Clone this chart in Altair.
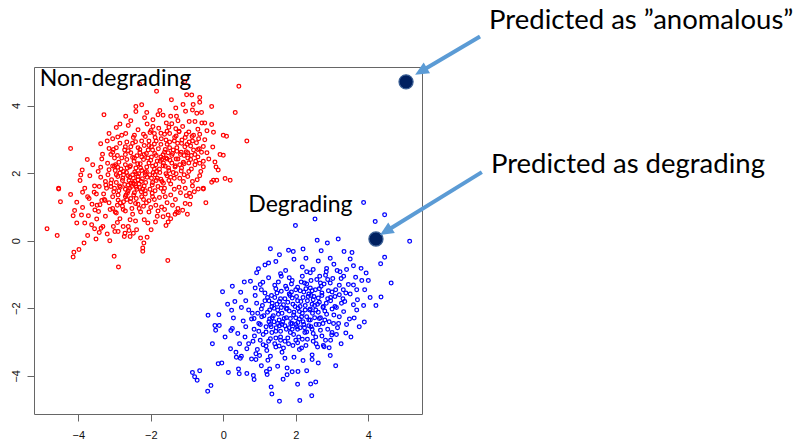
import math
import altair as alt
import pandas as pd

# --- Non-degrading samples (red) -------------------------------------------
red_edge = [
    (-2.31, 4.64), (-1.06, 4.71), (0.43, 4.57), (-1.84, 4.42), (-1.01, 4.32), (-0.87, 4.31),
    (-0.65, 4.24), (-1.43, 4.17), (-1.11, 4.03), (-0.83, 4.03), (-0.65, 4.10), (-2.41, 3.97),
    (-2.25, 4.02), (-1.31, 3.93), (-0.32, 3.97), (-2.41, 3.82), (-2.11, 3.79), (-2.69, 3.68),
    (-3.29, 3.73), (-1.29, 3.68), (-1.04, 3.83), (-0.85, 3.87), (-0.73, 3.77), (-0.60, 3.79),
    (0.33, 3.79), (-2.17, 3.64), (-1.94, 3.58), (-1.80, 3.73), (-1.66, 3.71), (-1.57, 3.48),
    (-0.94, 3.53), (-0.78, 3.53), (-0.59, 3.48), (-0.51, 3.48), (-0.32, 3.44), (-1.94, 3.38),
    (-1.50, 3.36), (-1.31, 3.31), (-1.22, 3.24), (-3.15, 3.17), (-2.91, 3.07), (-2.69, 3.17),
    (-1.99, 3.26), (-1.90, 3.17), (-1.62, 3.15), (-1.48, 3.17), (-0.27, 3.21), (0.00, 3.12),
    (0.09, 3.09), (-0.51, 2.99), (-0.55, 2.79), (-0.29, 2.77), (-4.21, 2.73), (-3.38, 2.87),
    (-3.15, 2.73), (-3.03, 2.70), (-3.33, 2.56), (-3.89, 2.09), (-3.93, 1.94), (-3.38, 2.17),
    (-3.19, 2.29), (-3.05, 2.21), (-2.91, 2.17), (-4.54, 1.55), (-0.09, 2.55), (0.00, 2.53),
    (-0.23, 2.33), (-0.65, 2.29), (-0.55, 2.19), (-0.14, 2.09), (0.05, 1.84), (0.19, 1.79),
    (-0.27, 1.79), (-0.55, 1.55), (0.65, 2.95),
    (-4.54, 1.53), (-4.21, 1.37), (-3.88, 1.43), (-3.74, 1.30), (-4.49, 1.15), (-4.04, 1.14),
    (-3.56, 1.43), (-3.42, 1.60), (-3.24, 1.65), (-3.10, 1.70), (-4.86, 0.35), (-4.58, 0.15),
    (-4.12, -0.34), (-4.14, -0.48), (-3.98, -0.26), (-3.84, -0.07), (-3.74, 0.15), (-3.51, 0.05),
    (-3.42, 0.24), (-3.37, 0.37), (-3.32, 0.42), (-3.13, 0.00), (-3.01, -0.46), (-2.89, -0.78),
    (-2.22, -0.22), (-2.22, -0.31), (-2.19, -0.07), (-2.28, 0.08), (-1.53, -0.59), (-1.99, 0.32),
    (-1.87, 0.55), (-2.08, 0.52), (-0.48, 1.12), (-0.69, 1.53), (-0.55, 1.53), (-0.32, 1.73),
    (-0.18, 1.79), (-0.93, 1.40), (-1.02, 1.33), (-1.29, 0.84),
    (-4.10, 0.89), (-4.14, 0.74), (-4.04, 0.52), (-3.91, 0.76), (-3.82, 0.52), (-3.72, 0.74),
    (-3.63, 0.47), (-3.49, 0.64), (-3.44, 0.86), (-3.40, 1.06), (-3.35, 1.19), (-3.26, 1.19),
    (-3.54, 0.91), (-2.39, 0.32), (-2.48, 0.22), (-2.57, 0.12), (-2.71, 0.22), (-2.76, 0.42),
    (-2.62, 0.42), (-2.57, 0.62), (-3.03, 0.42), (-2.92, 0.54), (-2.99, 0.27), (-2.90, 0.27),
    (-2.73, 0.12), (-1.52, 0.55), (-1.66, 0.71), (-1.52, 0.76), (-1.33, 0.78), (-1.24, 0.83),
    (-0.99, 0.78),
]

red_core = [
    (-2.62, 3.41), (-2.35, 3.28), (-2.10, 3.45), (-1.78, 3.33), (-1.42, 3.46), (-1.12, 3.38),
    (-0.95, 3.22), (-0.70, 3.30), (-2.80, 3.12), (-2.48, 3.05), (-2.20, 3.15), (-1.71, 3.02),
    (-1.30, 3.10), (-1.05, 3.05), (-0.82, 3.12), (-0.68, 3.02), (-2.95, 3.35), (-1.55, 3.24),
    (-3.05, 2.62), (-2.85, 2.88), (-2.70, 2.55), (-2.55, 2.78), (-2.42, 2.93), (-2.30, 2.61),
    (-2.18, 2.82), (-2.05, 2.95), (-1.95, 2.68), (-1.85, 2.52), (-1.72, 2.85), (-1.60, 2.70),
    (-1.48, 2.92), (-1.40, 2.58), (-1.28, 2.75), (-1.15, 2.88), (-1.02, 2.63), (-0.90, 2.80),
    (-0.78, 2.55), (-0.66, 2.72), (-2.62, 2.66), (-2.38, 2.51), (-2.12, 2.58), (-1.90, 2.86),
    (-1.66, 2.54), (-1.35, 2.95), (-1.08, 2.52), (-0.85, 2.95), (-2.92, 2.52), (-3.20, 2.95),
    (-0.45, 2.60), (-1.52, 2.60),
    (-3.35, 2.42), (-3.15, 2.10), (-3.00, 2.45), (-2.88, 2.32), (-2.75, 2.05), (-2.66, 2.40),
    (-2.58, 2.18), (-2.50, 2.46), (-2.44, 2.03), (-2.36, 2.28), (-2.28, 2.15), (-2.20, 2.40),
    (-2.12, 2.05), (-2.05, 2.30), (-1.98, 2.48), (-1.90, 2.12), (-1.82, 2.36), (-1.75, 2.02),
    (-1.66, 2.22), (-1.58, 2.45), (-1.50, 2.08), (-1.42, 2.30), (-1.33, 2.18), (-1.25, 2.42),
    (-1.16, 2.06), (-1.08, 2.28), (-0.98, 2.45), (-0.88, 2.12), (-0.76, 2.35), (-0.62, 2.05),
    (-0.40, 2.42), (-2.70, 2.25), (-2.46, 2.35), (-2.25, 2.48), (-1.95, 2.20), (-1.70, 2.40),
    (-1.38, 2.02), (-1.20, 2.25), (-2.98, 2.08), (-0.20, 2.18),
    (-3.55, 1.62), (-3.38, 1.88), (-3.22, 1.55), (-3.08, 1.80), (-2.95, 1.95), (-2.86, 1.62),
    (-2.78, 1.78), (-2.70, 1.52), (-2.63, 1.92), (-2.55, 1.70), (-2.48, 1.85), (-2.40, 1.58),
    (-2.33, 1.98), (-2.26, 1.75), (-2.18, 1.62), (-2.10, 1.88), (-2.02, 1.52), (-1.95, 1.72),
    (-1.88, 1.95), (-1.80, 1.60), (-1.72, 1.82), (-1.62, 1.55), (-1.55, 1.92), (-1.45, 1.68),
    (-1.35, 1.85), (-1.22, 1.58), (-1.10, 1.75), (-0.98, 1.90), (-0.85, 1.62), (-0.72, 1.80),
    (-2.58, 1.55), (-2.35, 1.80), (-2.15, 1.95), (-1.98, 1.85), (-1.65, 1.70), (-2.75, 1.95),
    (-3.00, 1.55), (-2.45, 1.68), (-2.22, 1.52), (-1.85, 1.78),
    (-3.70, 1.25), (-3.48, 1.05), (-3.30, 1.38), (-3.15, 1.12), (-3.02, 1.45), (-2.90, 1.20),
    (-2.78, 1.02), (-2.68, 1.35), (-2.56, 1.15), (-2.45, 1.42), (-2.35, 1.08), (-2.25, 1.30),
    (-2.15, 1.48), (-2.05, 1.18), (-1.96, 1.40), (-1.86, 1.05), (-1.76, 1.28), (-1.65, 1.45),
    (-1.55, 1.12), (-1.45, 1.35), (-1.32, 1.22), (-1.18, 1.42), (-1.05, 1.10), (-0.90, 1.30),
    (-2.62, 1.48), (-2.92, 1.05), (-2.20, 1.02), (-1.70, 1.00),
    (-3.25, 0.72), (-3.05, 0.95), (-2.85, 0.65), (-2.70, 0.88), (-2.50, 0.78), (-2.32, 0.95),
    (-2.18, 0.62), (-2.05, 0.85), (-1.82, 0.72), (-1.62, 0.92), (-1.45, 0.65), (-1.12, 0.90),
    (-2.42, 0.58), (-2.95, 0.82),
]

red_dense = [
    (-2.95, 1.72), (-2.88, 1.48), (-2.82, 2.12), (-2.77, 1.85), (-2.72, 1.66), (-2.67, 2.02),
    (-2.64, 1.42), (-2.60, 1.78), (-2.56, 2.22), (-2.53, 1.60), (-2.50, 1.95), (-2.47, 1.35),
    (-2.44, 1.76), (-2.41, 2.15), (-2.38, 1.52), (-2.35, 1.90), (-2.32, 1.68), (-2.29, 2.28),
    (-2.26, 1.45), (-2.23, 1.83), (-2.91, 1.90), (-2.84, 1.58), (-2.70, 1.30), (-2.58, 1.88),
    (-2.49, 1.70), (-2.40, 1.98), (-2.31, 1.58), (-2.25, 2.08), (-2.97, 2.25), (-2.62, 1.65),
    (-2.18, 2.55), (-2.14, 1.72), (-2.11, 2.18), (-2.07, 2.68), (-2.03, 1.95), (-2.00, 2.38),
    (-1.96, 1.65), (-1.93, 2.02), (-1.89, 2.58), (-1.86, 2.25), (-1.82, 1.85), (-1.79, 2.72),
    (-1.76, 2.12), (-1.72, 2.48), (-1.69, 1.75), (-1.65, 2.30), (-1.62, 2.62), (-1.58, 1.98),
    (-1.55, 2.42), (-1.51, 2.15), (-1.48, 2.75), (-1.45, 1.88), (-1.42, 2.52), (-2.16, 2.02),
    (-2.08, 2.45), (-1.98, 2.78), (-1.84, 2.05), (-1.74, 2.35), (-1.60, 2.20), (-1.47, 2.38),
    (-1.38, 2.68), (-1.34, 3.05), (-1.30, 2.42), (-1.26, 2.88), (-1.22, 3.22), (-1.18, 2.55),
    (-1.14, 2.98), (-1.10, 2.32), (-1.06, 2.78), (-1.02, 3.15), (-0.98, 2.60), (-0.94, 2.92),
    (-0.90, 2.40), (-0.86, 3.08), (-0.82, 2.68), (-0.78, 2.25), (-0.74, 2.90), (-0.70, 2.48),
    (-0.65, 3.15), (-0.60, 2.62), (-0.55, 2.35), (-1.32, 2.22), (-1.16, 2.62), (-1.00, 2.85),
    (-0.88, 2.52),
    (-3.28, 1.22), (-3.12, 0.92), (-3.05, 1.30), (-2.98, 0.85), (-2.84, 1.12), (-2.76, 0.92),
    (-2.66, 1.22), (-2.52, 0.95), (-2.40, 1.25), (-2.28, 0.85), (-2.12, 1.12), (-2.00, 0.98),
    (-1.90, 1.22), (-1.80, 0.88), (-3.10, 2.55), (-2.95, 2.75), (-2.80, 2.45), (-2.66, 2.92),
    (-2.55, 2.60), (-2.45, 3.12), (-2.35, 2.75), (-2.25, 2.95), (-2.15, 3.08), (-2.02, 3.20),
    (-1.88, 3.05), (-1.72, 3.18), (-1.58, 2.98), (-2.72, 2.68), (-2.50, 2.88),
    (-3.95, 1.78), (-3.82, 1.55), (-3.68, 1.92), (-3.60, 2.25), (-3.50, 1.38), (-3.45, 2.05),
    (-3.75, 2.40), (-3.62, 1.08), (-3.88, 0.98), (-1.35, 1.52), (-1.20, 1.85), (-1.05, 1.55),
    (-0.95, 2.05), (-0.80, 1.45), (-0.65, 1.92), (-1.40, 1.05), (-1.25, 0.95), (-0.92, 1.08),
    (-1.58, 0.45), (-2.60, 0.30), (-3.20, 0.20), (-2.10, 0.10), (-3.55, 0.35), (-1.75, 3.85),
    (-1.45, 3.68), (-2.55, 3.55), (-2.85, 3.45), (-3.05, 3.02), (-1.25, 3.55), (-0.45, 3.25),
    (-2.45, 2.45), (-2.65, 2.15), (-2.85, 2.00), (-3.10, 1.60), (-3.18, 1.95), (-2.90, 1.35),
    (-2.55, 1.25), (-2.20, 1.22), (-1.95, 1.30), (-1.72, 1.55), (-1.50, 1.78), (-1.30, 1.98),
    (-1.15, 2.15), (-0.95, 2.30), (-0.70, 2.70), (-1.55, 2.85), (-1.85, 2.95), (-2.05, 2.82),
    (-2.30, 2.70), (-2.70, 2.78), (-3.00, 2.20), (-3.25, 1.75), (-2.15, 1.38), (-1.88, 1.48),
    (-1.60, 1.30), (-2.42, 1.10), (-2.75, 1.15), (-1.28, 2.65), (-1.08, 1.95), (-0.85, 1.75),
]

# --- Degrading samples (blue) ----------------------------------------------
blue_edge = [
    (3.87, 1.13), (4.45, 0.77), (4.19, 0.57), (2.53, 0.64), (1.99, 0.45), (5.14, -0.02),
    (1.30, -0.24), (2.59, 0.01), (2.87, -0.07), (3.17, 0.05), (1.93, -0.32), (3.33, -0.32),
    (4.45, -0.49), (4.34, -0.68), (1.25, -0.66), (0.97, -0.83), (-0.02, -1.51), (0.48, -1.53),
    (0.88, -1.40), (1.02, -1.30), (1.09, -1.23), (4.63, -1.25), (4.35, -1.67), (4.21, -1.92),
    (3.87, -1.92), (3.89, -2.41), (-0.42, -2.21), (-0.12, -2.19), (-0.23, -2.51), (-0.11, -2.51),
    (-0.21, -2.65), (0.25, -2.60), (0.21, -2.66), (3.38, -2.73), (2.78, -3.14), (2.92, -3.17),
    (-0.85, -3.90), (-0.79, -4.03), (-0.72, -4.13), (-0.65, -3.85), (-0.34, -4.29), (-0.43, -4.46),
    (-0.14, -3.64), (-0.04, -3.62), (0.14, -3.90), (0.42, -3.80), (0.44, -3.94), (0.65, -3.93),
    (0.83, -3.99), (0.85, -4.11), (1.21, -3.96), (1.28, -3.80), (1.32, -4.33), (1.34, -4.54),
    (1.55, -4.75), (2.11, -4.73), (2.44, -4.59), (2.41, -4.24), (2.55, -4.18), (1.76, -3.77),
    (1.90, -3.88), (2.06, -3.87), (1.76, -3.97), (2.20, -3.55), (2.45, -3.52), (0.47, -3.48),
    (0.50, -3.42), (0.36, -3.45), (0.78, -3.50), (0.90, -3.52), (1.00, -3.40), (1.23, -3.54),
    (3.82, -1.18), (4.00, -1.18), (3.59, -1.31), (3.68, -1.45), (3.31, -1.45), (3.94, -0.96),
    (3.50, -0.54), (3.59, -0.74), (3.59, -1.90), (3.68, -2.05), (3.61, -2.29), (2.99, -2.79),
    (0.23, -2.06), (0.28, -2.29), (0.32, -1.80), (1.19, -3.87),
]

blue_core = [
    (1.45, -0.62), (1.72, -0.88), (1.95, -0.55), (2.18, -0.78), (2.40, -0.95), (2.62, -0.60),
    (2.85, -0.82), (3.05, -0.70), (3.22, -0.92), (2.28, -0.52), (1.58, -0.98), (2.95, -0.52),
    (3.40, -0.85),
    (0.75, -1.20), (1.05, -1.45), (1.25, -1.10), (1.42, -1.32), (1.60, -1.05), (1.75, -1.42),
    (1.90, -1.18), (2.05, -1.38), (2.18, -1.05), (2.30, -1.28), (2.45, -1.48), (2.58, -1.15),
    (2.70, -1.35), (2.82, -1.02), (2.95, -1.25), (3.10, -1.45), (3.25, -1.12), (3.45, -1.30),
    (3.65, -1.08), (1.52, -1.22), (2.12, -1.48), (2.65, -1.42), (1.82, -1.10),
    (0.62, -1.78), (0.88, -1.62), (1.08, -1.92), (1.22, -1.68), (1.35, -1.85), (1.48, -1.55),
    (1.60, -1.98), (1.70, -1.72), (1.82, -1.58), (1.92, -1.88), (2.02, -1.65), (2.12, -1.95),
    (2.22, -1.52), (2.32, -1.78), (2.42, -1.62), (2.52, -1.92), (2.62, -1.70), (2.72, -1.55),
    (2.84, -1.85), (2.96, -1.68), (3.08, -1.95), (3.20, -1.60), (3.35, -1.80), (3.50, -1.58),
    (3.70, -1.75), (1.55, -1.80), (2.05, -1.78), (2.48, -1.75), (1.88, -1.52), (2.75, -1.98),
    (1.15, -1.55), (3.00, -1.52),
    (0.55, -2.38), (0.80, -2.15), (0.98, -2.45), (1.12, -2.22), (1.28, -2.05), (1.40, -2.40),
    (1.52, -2.18), (1.62, -2.48), (1.74, -2.02), (1.85, -2.30), (1.95, -2.12), (2.06, -2.42),
    (2.16, -2.25), (2.26, -2.05), (2.36, -2.35), (2.46, -2.15), (2.56, -2.48), (2.68, -2.28),
    (2.80, -2.08), (2.92, -2.40), (3.05, -2.20), (3.18, -2.45), (3.32, -2.10), (3.48, -2.32),
    (1.35, -2.28), (1.90, -2.45), (2.40, -2.02), (2.10, -2.10), (1.68, -2.30), (2.62, -2.12),
    (3.40, -2.48), (0.70, -2.05),
    (0.60, -2.85), (0.85, -2.62), (1.02, -2.95), (1.18, -2.70), (1.32, -2.55), (1.45, -2.88),
    (1.58, -2.68), (1.70, -2.98), (1.82, -2.58), (1.94, -2.78), (2.05, -2.62), (2.18, -2.92),
    (2.30, -2.70), (2.42, -2.55), (2.55, -2.85), (2.68, -2.65), (2.82, -2.95), (3.00, -2.72),
    (3.15, -2.58), (1.25, -2.98), (2.00, -2.95), (2.48, -2.98), (1.55, -2.52),
    (0.65, -3.20), (0.90, -3.35), (1.10, -3.08), (1.30, -3.42), (1.45, -3.15), (1.62, -3.30),
    (1.80, -3.05), (1.95, -3.45), (2.10, -3.22), (2.28, -3.10), (2.45, -3.38), (2.60, -3.15),
    (1.20, -3.25), (2.05, -3.02), (0.45, -3.05), (1.70, -3.48),
]

blue_dense = [
    (1.22, -2.12), (1.26, -1.78), (1.30, -2.48), (1.34, -1.95), (1.38, -2.22), (1.42, -1.68),
    (1.46, -2.58), (1.50, -2.05), (1.54, -2.35), (1.58, -1.72), (1.62, -2.15), (1.66, -1.90),
    (1.70, -2.52), (1.74, -2.28), (1.78, -1.82), (1.82, -2.08), (1.86, -2.45), (1.90, -1.70),
    (1.94, -2.20), (1.98, -1.95), (2.02, -2.55), (2.06, -2.00), (2.10, -2.32), (2.14, -1.80),
    (2.18, -2.15), (2.22, -2.48), (2.26, -1.92), (2.30, -2.25), (2.34, -1.65), (2.38, -2.05),
    (1.28, -2.32), (1.48, -1.88), (1.64, -2.40), (1.84, -1.62), (2.00, -2.28), (2.20, -1.68),
    (2.36, -2.52), (1.40, -2.00), (1.76, -2.00), (2.12, -2.58),
    (2.24, -1.25), (2.30, -0.92), (2.36, -1.58), (2.42, -1.18), (2.48, -0.85), (2.54, -1.45),
    (2.60, -1.88), (2.66, -1.05), (2.72, -1.62), (2.78, -1.28), (2.84, -0.92), (2.90, -1.48),
    (2.96, -1.78), (3.02, -1.12), (3.08, -1.65), (3.14, -0.88), (3.20, -1.32), (3.26, -1.85),
    (3.32, -1.05), (3.38, -1.55), (2.50, -1.65), (2.76, -1.95), (2.88, -1.15), (3.12, -1.98),
    (2.40, -1.40), (2.68, -1.25),
    (0.62, -2.55), (0.70, -3.05), (0.78, -2.32), (0.86, -2.82), (0.94, -3.22), (1.02, -2.48),
    (1.10, -2.78), (1.18, -3.12), (1.26, -2.40), (1.34, -2.72), (1.42, -3.05), (1.50, -2.45),
    (1.58, -2.85), (1.66, -3.18), (1.74, -2.62), (0.82, -2.98), (1.06, -2.25), (1.30, -2.90),
    (1.54, -3.12), (0.98, -2.68),
    (1.85, -2.72), (1.92, -3.10), (2.00, -2.48), (2.08, -2.85), (2.16, -3.18), (2.24, -2.58),
    (2.32, -2.92), (2.40, -2.35), (2.48, -2.75), (2.56, -3.05), (2.64, -2.48), (2.72, -2.82),
    (2.80, -2.35), (2.88, -2.62), (2.96, -2.95), (3.04, -2.45), (3.12, -2.78), (2.20, -2.40),
    (2.52, -2.28), (2.76, -3.10),
    (0.25, -1.35), (0.40, -2.75), (0.50, -1.98), (0.35, -3.30), (0.58, -1.22), (0.92, -0.95),
    (1.15, -0.72), (1.55, -0.42), (1.80, -0.28), (2.20, -0.25), (2.70, -0.30), (3.55, -0.35),
    (3.80, -0.82), (3.90, -1.45), (4.05, -1.68), (3.75, -2.55), (3.52, -2.85), (3.25, -3.05),
    (2.95, -3.40), (2.62, -3.62), (2.30, -3.85), (1.50, -3.72), (1.05, -3.70), (0.20, -3.20),
    (-0.30, -3.05), (0.05, -2.85), (0.12, -1.88), (1.65, -4.10), (2.05, -4.25), (3.10, -3.70),
    (1.60, -1.50), (1.72, -1.35), (1.88, -1.28), (2.00, -1.45), (2.15, -1.22), (2.28, -1.42),
    (1.45, -1.42), (1.33, -1.62), (1.15, -1.78), (1.05, -2.02), (0.92, -1.85), (0.85, -2.30),
    (0.95, -2.15), (1.18, -2.55), (1.45, -2.68), (1.90, -2.62), (2.25, -2.72), (2.45, -2.62),
    (2.65, -2.30), (2.85, -2.18), (3.00, -2.02), (2.88, -1.72), (2.65, -1.82), (2.45, -1.88),
    (2.55, -2.05), (2.75, -2.45), (3.20, -2.25), (3.30, -1.72), (1.58, -2.95), (1.78, -2.88),
]

# --- The two new observations and their predictions --------------------------
new_x = [5.04, 4.21]
new_y = [4.70, 0.05]
new_class = ["anomalous", "degrading"]

# Callout texts (data units: left edge, baseline)
callout_text = ["Predicted as \u201danomalous\u201d", "Predicted as degrading"]
callout_x = [7.33, 7.38]
callout_y = [6.27, 2.00]

# Cluster names
cluster_text = ["Non-degrading", "Degrading"]
cluster_x = [-5.06, 0.69]
cluster_y = [4.58, 0.86]

# Callout arrows (tail near the text, tip at the new observation)
arrow_tail_x = [7.08, 7.13]
arrow_tail_y = [6.04, 2.03]
arrow_tip_x = [5.29, 4.32]
arrow_tip_y = [4.91, 0.17]

X_DOMAIN = [-5.22, 5.48]
Y_DOMAIN = [-5.13, 5.14]
PLOT_W, PLOT_H = 388, 347

px_per_x = PLOT_W / (X_DOMAIN[1] - X_DOMAIN[0])
px_per_y = PLOT_H / (Y_DOMAIN[1] - Y_DOMAIN[0])

cloud = pd.DataFrame(
    [(x, y, "Non-degrading") for x, y in red_edge + red_core + red_dense]
    + [(x, y, "Degrading") for x, y in blue_edge + blue_core + blue_dense],
    columns=["x", "y", "group"],
)

new_obs = pd.DataFrame({"x": new_x, "y": new_y, "cls": new_class})
callouts = pd.DataFrame({"x": callout_x, "y": callout_y, "text": callout_text})
clusters = pd.DataFrame({"x": cluster_x, "y": cluster_y, "text": cluster_text})

# arrow geometry: shaft stops inside the head, head rotated along the shaft
rows = []
for tx, ty, hx, hy in zip(arrow_tail_x, arrow_tail_y, arrow_tip_x, arrow_tip_y):
    dx = (hx - tx) * px_per_x
    dy = -(hy - ty) * px_per_y
    n = math.hypot(dx, dy)
    ux, uy = dx / n, dy / n
    back = 9.0
    rows.append({
        "tx": tx, "ty": ty,
        "ex": hx - ux * back / px_per_x, "ey": hy + uy * back / px_per_y,
        "hx": hx, "hy": hy,
        "angle": math.degrees(math.atan2(dx, -dy)) % 360,
    })
arrows = pd.DataFrame(rows)

xs = alt.Scale(domain=X_DOMAIN, nice=False, zero=False)
ys = alt.Scale(domain=Y_DOMAIN, nice=False, zero=False)

tick_vals = [-4, -2, 0, 2, 4]
x_axis = alt.Axis(values=tick_vals, title=None, grid=False, domain=False, tickSize=7,
                  tickColor="#666", labelFont="Liberation Sans", labelFontSize=11,
                  labelColor="#111", labelPadding=8)
y_axis = alt.Axis(values=tick_vals, title=None, grid=False, domain=False, tickSize=7,
                  tickColor="#666", labelFont="Liberation Sans", labelFontSize=11,
                  labelColor="#111", labelPadding=6, labelAngle=270,
                  labelAlign="center", labelBaseline="bottom")

points = alt.Chart(cloud).mark_point(shape="circle", filled=False, size=14,
                                     strokeWidth=1.25, opacity=1).encode(
    x=alt.X("x:Q", scale=xs, axis=x_axis),
    y=alt.Y("y:Q", scale=ys, axis=y_axis),
    color=alt.Color("group:N",
                    scale=alt.Scale(domain=["Non-degrading", "Degrading"],
                                    range=["#ff0000", "#0000ff"]),
                    legend=None),
)

big = alt.Chart(new_obs).mark_point(shape="circle", filled=True, size=200, fill="#002060",
                                    stroke="#3a5f95", strokeWidth=1.2, opacity=1).encode(
    x=alt.X("x:Q", scale=xs),
    y=alt.Y("y:Q", scale=ys),
)

shafts = alt.Chart(arrows).mark_rule(color="#5b9bd5", strokeWidth=4, clip=False).encode(
    x=alt.X("tx:Q", scale=xs), y=alt.Y("ty:Q", scale=ys),
    x2="ex:Q", y2="ey:Q",
)

heads = alt.Chart(arrows).mark_point(shape="M0,0 L-0.6,1.3 L0.6,1.3 Z", filled=True,
                                     size=440, color="#5b9bd5", opacity=1,
                                     clip=False).encode(
    x=alt.X("hx:Q", scale=xs), y=alt.Y("hy:Q", scale=ys),
    angle=alt.Angle("angle:Q", scale=None),
)

callout_marks = alt.Chart(callouts).mark_text(align="left", baseline="alphabetic", font="Lato",
                                              fontSize=27.5, color="#000000", clip=False).encode(
    x=alt.X("x:Q", scale=xs), y=alt.Y("y:Q", scale=ys), text="text:N",
)

cluster_marks = alt.Chart(clusters).mark_text(align="left", baseline="alphabetic", font="Lato",
                                              fontSize=23, color="#000000").encode(
    x=alt.X("x:Q", scale=xs), y=alt.Y("y:Q", scale=ys), text="text:N",
)

chart = alt.layer(points, big, shafts, heads, callout_marks, cluster_marks).properties(
    width=PLOT_W, height=PLOT_H,
    autosize=alt.AutoSizeParams(type="none"),
    padding={"left": 34, "top": 67, "right": 378, "bottom": 30},
    background="white",
).configure_view(stroke="#666666", strokeWidth=1)

chart.save("out.html", embed_options={"renderer": "svg", "actions": False})
